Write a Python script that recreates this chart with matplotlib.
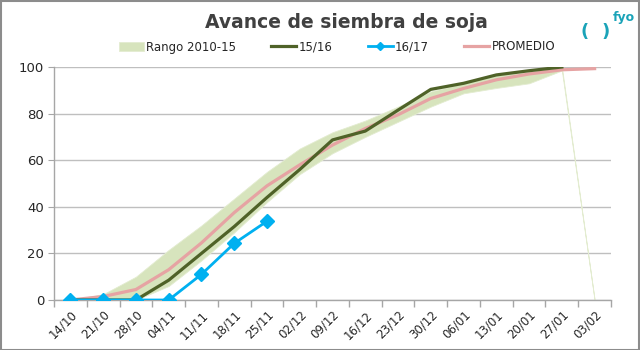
import numpy as np
import matplotlib
matplotlib.use("Agg")
import matplotlib.pyplot as plt
from matplotlib.patches import Rectangle

categories = ['14/10', '21/10', '28/10', '04/11', '11/11', '18/11', '25/11', '02/12',
              '09/12', '16/12', '23/12', '30/12', '06/01', '13/01', '20/01', '27/01', '03/02']
range_low = [0, 0, 0, 6, 17, 29, 42, 54, 63, 70, 76.5, 83, 88.7, 91, 93, 98.5, 0]
range_high = [0, 2.5, 10, 21.5, 32, 43.5, 55, 65, 72, 77, 83, 89.5, 93, 96.5, 97.8, 100, 0]
s1516 = [0, 0, 0, 8.5, 20, 31.5, 44, 56, 68.7, 72.5, 81.5, 90.4, 93, 96.6, 98.4, 100, np.nan]
s1617 = [0, 0, 0, 0, 11, 24.3, 33.8] + [np.nan] * 10
promedio = [0, 1.5, 4.5, 13, 24.5, 37.5, 49, 58, 66.5, 73.6, 79.5, 86.5, 90.8, 94.5, 97, 98.8, 99.3]

plt.rcParams['font.family'] = ['DejaVu Sans']
fig = plt.figure(figsize=(6.4, 3.5), dpi=100)
ax = fig.add_axes([54/640, 1-300/350, (611-54)/640, (300-67)/350])

x = np.arange(len(categories))
ax.fill_between(x, range_low, range_high, color='#d7e4bd', edgecolor='#e3ecd0', linewidth=0.6,
                zorder=1, label='Rango 2010-15')
ax.plot(x, s1516, color='#4f6228', lw=2.3, zorder=3, label='15/16')
ax.plot(x, s1617, color='#00b0f0', lw=2.0, marker='D', ms=7, zorder=4, label='16/17')
ax.plot(x, promedio, color='#e6a3a3', lw=2.3, zorder=2, label='PROMEDIO')
ax.set_xlim(-0.5, len(categories) - 0.5)
ax.set_ylim(0, 100)
ax.set_yticks([0, 20, 40, 60, 80, 100])
ax.yaxis.grid(True, color='#bfbfbf', lw=1)
ax.set_axisbelow(True)
ax.set_xticks(x)
ax.set_xticklabels(categories, rotation=45, ha='right', rotation_mode='anchor',
                   fontsize=8.5, color='#262626')
ax.set_xticks(np.arange(-0.5, len(categories)), minor=True)
ax.tick_params(axis='x', which='major', length=0, pad=6)
ax.tick_params(axis='x', which='minor', length=5, color='#a6a6a6', width=1)
ax.tick_params(axis='y', length=4, color='#a6a6a6', labelsize=9.5, labelcolor='#262626', pad=3)
for s in ['top', 'right']:
    ax.spines[s].set_visible(False)
for s in ['left', 'bottom']:
    ax.spines[s].set_color('#a6a6a6')
    ax.spines[s].set_linewidth(1)

handles, labels = ax.get_legend_handles_labels()
order = [labels.index(l) for l in ['Rango 2010-15', '15/16', '16/17', 'PROMEDIO']]
leg = fig.legend([handles[i] for i in order], [labels[i] for i in order],
                 loc='center', bbox_to_anchor=(337/640, 1-47/350), ncol=4, frameon=False,
                 fontsize=8.5, handlelength=2.1, columnspacing=3.0, handletextpad=0.2,
                 markerscale=0.6)
for t in leg.get_texts():
    t.set_color('#262626')

fig.text(346/640, 1-23/350, 'Avance de siembra de soja', ha='center', va='center',
         fontsize=13.5, fontweight='bold', color='#404040')
fig.text(585/640, 1-32/350, '(', ha='center', va='center', fontsize=13, fontweight='bold', color='#1aa3b8')
fig.text(606/640, 1-32/350, ')', ha='center', va='center', fontsize=13, fontweight='bold', color='#1aa3b8')
fig.text(624/640, 1-18/350, 'fyo', ha='center', va='center', fontsize=9, fontweight='bold', color='#1aa3b8')

fig.patches.append(Rectangle((0.5/640, 0.5/350), 1-1.5/640, 1-1.5/350, transform=fig.transFigure,
                             fill=False, edgecolor='#8c8c8c', lw=1.5))
fig.savefig('out.png', dpi=100)
